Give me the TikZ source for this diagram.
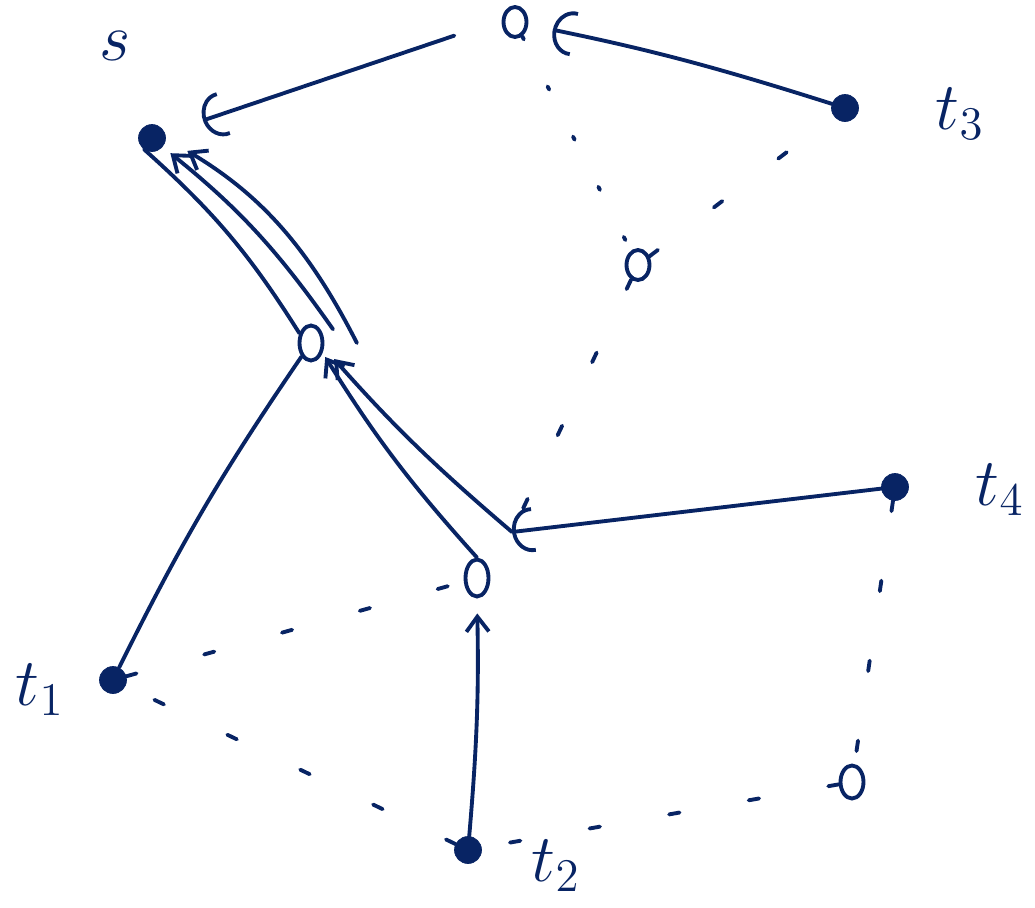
\documentclass[tikz,border=0pt]{standalone}
\usepackage{amsmath}
\usepackage{xcolor}
\usepackage{tikz}
\usetikzlibrary{arrows.meta,positioning,shapes.geometric}
\definecolor{cInk}{RGB}{8,36,100}

\begin{document}
\begin{tikzpicture}[x=0.02cm,y=-0.02cm,
  term/.style={circle,fill=cInk,draw=cInk,minimum size=0.54cm,inner sep=0pt},
  hub/.style={ellipse,draw=cInk,line width=2.2pt,minimum width=0.46cm,minimum height=0.6cm,inner sep=0pt},
  lbl/.style={text=cInk,font=\huge,scale=1.85},
  edge/.style={draw=cInk,line width=2.2pt,line cap=round},
  flow/.style={edge,-{Straight Barb[length=0.3cm,width=0.45cm]}},
  hook/.style={edge,{Arc Barb[arc=190,length=0.4cm,width=0.9cm]}-},
  gap/.style={edge,dash pattern=on 6pt off 40pt},
  dots/.style={edge,dash pattern=on 2pt off 30pt}]
  \useasboundingbox (0,0) rectangle (1035,907);
  % terminals
  \node[term] (s)  at (152,138) {};
  \node[term] (t3) at (845,108) {};
  \node[term] (t4) at (895,487) {};
  \node[term] (t1) at (113,680) {};
  \node[term] (t2) at (468,850) {};
  % steiner points
  \node[hub] (a) at (515,22) {};
  \node[hub] (b) at (638,265) {};
  \node[hub,minimum height=0.7cm] (c) at (311,343) {};
  \node[hub,minimum height=0.74cm] (d) at (477,578) {};
  \node[hub,minimum height=0.66cm] (f) at (852,782) {};
  \coordinate (e) at (512,532);
  % labels
  \node[lbl] (ls) at (115,46) {$s$};
  \node[lbl] (l3) at (960,114) {$t_3$};
  \node[lbl] (l4) at (1000,490) {$t_4$};
  \node[lbl] (l1) at (40,690) {$t_1$};
  \node[lbl] (l2) at (556,866) {$t_2$};
  % tree
  \draw[hook,shorten <=0.8cm,shorten >=1.0cm] (s.20) -- (a.170);
  \draw[hook,shorten <=0.5cm] (a) to[bend left=3] (t3);
  \draw[edge] (s.235) to[bend left=8] (c.140);
  \draw[flow,shorten >=0.2cm] ([xshift=0.25cm]c.north east) to[bend right=8] (s.-40);
  \draw[flow,shorten >=0.5cm] ([xshift=0.65cm]c.east) to[bend right=16] (s.east);
  \draw[edge] (c.235) to[bend right=4] (t1);
  \draw[flow,shorten >=0.1cm] (d.north) to[bend left=5] (c.-40);
  \draw[flow,shorten >=0.3cm] (e) to[bend left=4] (c.-20);
  \draw[flow,shorten >=0.3cm] (t2) to[bend right=3] (d.south);
  \draw[hook] (e) -- (t4);
  % remaining links
  \draw[dots] (a) -- (b);
  \draw[gap] (b) -- (t3);
  \draw[gap] (b) -- (e);
  \draw[gap] (t4) -- (f);
  \draw[gap] (f) -- (t2);
  \draw[gap] (t2) -- (t1);
  \draw[gap] (t1) -- (d);
\end{tikzpicture}
\end{document}
